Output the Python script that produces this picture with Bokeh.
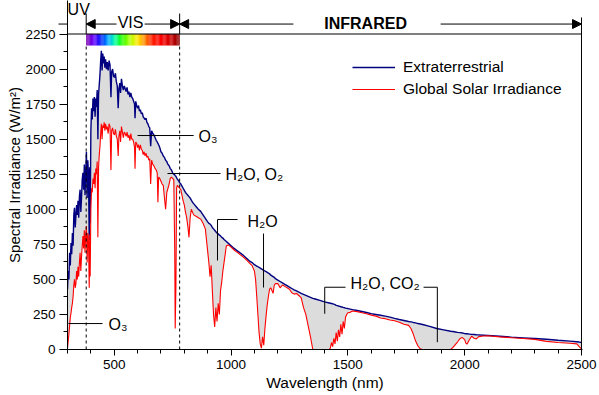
import math
from bokeh.plotting import figure
from bokeh.models import (Range1d, FixedTicker, Arrow, NormalHead, Label,
                          Legend, LegendItem, Title)
from bokeh.embed import file_html
from bokeh.resources import INLINE

# ---------------- data ----------------
wavelength = [
    300, 303, 306, 309, 312, 315, 318, 321, 324, 327, 330, 333, 336, 339, 342, 345, 348,
    351, 354, 357, 360, 363, 366, 369, 372, 375, 378, 381, 384, 387, 390, 393, 395, 397,
    400, 403, 406, 409, 412, 415, 418, 421, 424, 427, 430, 433, 436, 439, 442, 445, 448,
    451, 454, 457, 460, 463, 467, 470, 474, 478, 482, 486, 489, 493, 497, 501, 505, 509,
    513, 517, 520, 524, 527, 531, 535, 539, 543, 547, 551, 555, 559, 563, 567, 571, 575,
    579, 583, 587, 589, 592, 596, 600, 604, 608, 612, 616, 620, 624, 628, 632, 636, 640,
    644, 648, 652, 656, 660, 665, 670, 675, 680, 684, 687, 690, 695, 700, 705, 710, 715,
    720, 725, 730, 735, 740, 745, 750, 755, 759, 761, 764, 767, 770, 775, 780, 785, 790,
    795, 800, 805, 810, 815, 820, 825, 830, 835, 840, 850, 860, 870, 880, 890, 900, 905,
    910, 915, 920, 925, 930, 935, 940, 945, 950, 955, 960, 965, 970, 980, 990, 1000, 1010,
    1020, 1030, 1040, 1050, 1060, 1070, 1080, 1090, 1100, 1105, 1110, 1115, 1120, 1125,
    1130, 1135, 1140, 1145, 1150, 1155, 1160, 1165, 1170, 1180, 1185, 1190, 1200, 1210,
    1220, 1230, 1240, 1250, 1260, 1270, 1280, 1290, 1300, 1310, 1320, 1330, 1340, 1350,
    1360, 1380, 1400, 1420, 1425, 1430, 1435, 1440, 1445, 1450, 1455, 1460, 1465, 1470,
    1475, 1480, 1485, 1490, 1495, 1500, 1510, 1520, 1540, 1560, 1580, 1600, 1620, 1640,
    1660, 1680, 1700, 1720, 1740, 1760, 1770, 1780, 1790, 1800, 1810, 1820, 1850, 1880,
    1910, 1940, 1950, 1960, 1970, 1980, 1990, 2000, 2005, 2010, 2020, 2030, 2040, 2050,
    2060, 2080, 2100, 2150, 2200, 2250, 2300, 2350, 2400, 2450, 2480, 2490, 2500]

extraterrestrial = [
    430, 560, 500, 690, 600, 760, 680, 830, 740, 960, 1010, 870, 950, 1030, 960, 1060, 940,
    1090, 1140, 980, 1080, 1210, 1260, 1140, 1320, 1100, 1260, 1410, 1080, 1350, 1240, 780, 1300, 900,
    1560, 1720, 1640, 1790, 1700, 1800, 1660, 1790, 1730, 1850, 1500, 1820, 1890, 1960, 2060, 2130, 1990,
    2110, 2040, 2090, 2010, 2070, 2000, 2050, 1990, 2060, 2030, 1800, 1980, 2000, 1950, 1940, 1970, 1910,
    1880, 1720, 1860, 1900, 1830, 1930, 1880, 1850, 1880, 1860, 1840, 1870, 1820, 1840, 1800, 1830, 1800,
    1790, 1770, 1750, 1650, 1770, 1740, 1720, 1740, 1700, 1710, 1680, 1690, 1660, 1650, 1640, 1650, 1620,
    1610, 1590, 1580, 1450, 1560, 1540, 1530, 1510, 1490, 1480, 1470, 1460, 1440, 1410, 1400, 1380, 1370,
    1350, 1340, 1320, 1310, 1290, 1280, 1260, 1250, 1245, 1240, 1235, 1225, 1215, 1205, 1190, 1180, 1165,
    1150, 1135, 1120, 1110, 1100, 1090, 1080, 1065, 1050, 1040, 1020, 1000, 985, 960, 935, 910, 900,
    895, 885, 870, 860, 850, 840, 830, 825, 815, 810, 800, 795, 785, 770, 755, 740, 725,
    712, 700, 688, 675, 660, 645, 630, 620, 605, 600, 595, 590, 585, 580,
    575, 570, 565, 560, 555, 550, 545, 540, 530, 520, 515, 505, 495, 485,
    475, 465, 455, 445, 435, 425, 418, 410, 400, 393, 386, 379, 372, 365,
    360, 350, 340, 332, 330, 328, 326, 323, 320, 315, 313, 310, 308, 305,
    303, 300, 298, 295, 293, 292, 288, 284, 278, 271, 264, 256, 250, 244,
    238, 231, 222, 214, 207, 200, 197, 193, 190, 185, 182, 178, 165, 150,
    140, 130, 128, 125, 122, 120, 118, 113, 112, 112, 110, 108, 107, 105,
    104, 102, 100, 95, 88, 83, 78, 73, 66, 60, 55, 53, 50]

global_irradiance = [
    10, 60, 110, 170, 230, 260, 300, 330, 380, 460, 500, 440, 470, 560, 500, 590, 520,
    620, 690, 560, 660, 740, 810, 720, 850, 690, 820, 880, 620, 830, 760, 440, 820, 520,
    1000, 1150, 1120, 1220, 1180, 1260, 1150, 1290, 1250, 1340, 800, 1300, 1390, 1450, 1540, 1610, 1500,
    1600, 1580, 1620, 1560, 1610, 1570, 1590, 1540, 1610, 1590, 1280, 1560, 1580, 1540, 1530, 1570, 1520,
    1500, 1380, 1520, 1560, 1480, 1590, 1550, 1510, 1550, 1540, 1520, 1550, 1510, 1530, 1490, 1540, 1500,
    1500, 1480, 1440, 1290, 1480, 1470, 1440, 1460, 1420, 1460, 1430, 1420, 1390, 1410, 1380, 1400, 1370,
    1380, 1350, 1360, 1180, 1350, 1320, 1310, 1290, 1280, 1260, 1050, 1230, 1220, 1200, 1180, 1170, 1080,
    1000, 1120, 1150, 1180, 1220, 1230, 1220, 1210, 700, 150, 450, 1150, 1170, 1160, 1150, 1140, 1100,
    1060, 1030, 980, 940, 880, 800, 940, 1000, 980, 960, 950, 940, 930, 900, 860, 700, 620,
    520, 600, 420, 250, 160, 300, 200, 330, 250, 420, 480, 560, 620, 740, 745, 730, 715,
    700, 690, 675, 662, 648, 632, 615, 598, 560, 500, 380, 250, 120, 40,
    10, 90, 30, 150, 240, 320, 380, 430, 440, 400, 460, 470, 470, 440,
    460, 450, 440, 430, 405, 395, 400, 385, 370, 300, 250, 170, 90, 0,
    0, 0, 0, 0, 10, 50, 20, 80, 40, 120, 60, 140, 90, 180,
    110, 200, 150, 230, 250, 262, 265, 275, 270, 262, 255, 245, 238, 225,
    220, 210, 205, 195, 180, 172, 150, 110, 60, 25, 5, 0, 0, 0,
    0, 0, 15, 35, 55, 78, 85, 70, 45, 38, 70, 95, 80, 75,
    92, 96, 98, 90, 84, 78, 72, 58, 50, 45, 40, 20, 5]

x_major_ticks = [500, 1000, 1500, 2000, 2500]
x_minor_ticks = [300, 400, 600, 700, 800, 900, 1100, 1200, 1300, 1400, 1600, 1700,
                 1800, 1900, 2100, 2200, 2300, 2400]
y_major_ticks = [0, 250, 500, 750, 1000, 1250, 1500, 1750, 2000, 2250]
y_minor_ticks = [125, 375, 625, 875, 1125, 1375, 1625, 1875, 2125]

# spectral colour bar stops (fraction of 380-780 nm, colour)
rainbow_stops = [(0.00, "#7a00a8"), (0.08, "#6a00ff"), (0.16, "#0020ff"), (0.24, "#00b0ff"),
                 (0.31, "#00ffa0"), (0.38, "#20ff00"), (0.47, "#b0ff00"), (0.55, "#ffe800"),
                 (0.62, "#ff9000"), (0.70, "#ff2000"), (0.80, "#ff0000"), (0.90, "#d00000"),
                 (1.00, "#8b0000")]

FONT = "Liberation Sans"

p = figure(width=599, height=395, x_range=Range1d(300, 2504.3), y_range=Range1d(0, 2489),
           output_backend="svg", toolbar_location=None,
           min_border_left=67, min_border_right=17, min_border_top=0, min_border_bottom=46)
p.outline_line_color = None
p.xgrid.visible = False
p.ygrid.visible = False
p.background_fill_color = "white"

for ax in (p.xaxis[0], p.yaxis[0]):
    ax.axis_line_color = "black"
    ax.major_tick_line_color = "black"
    ax.minor_tick_line_color = "black"
    ax.major_tick_in = 0
    ax.minor_tick_in = 0
    ax.major_label_text_font = FONT
    ax.major_label_text_font_size = "13.5px"
    ax.major_label_text_color = "black"
    ax.major_label_standoff = 4

p.xaxis.ticker = FixedTicker(ticks=x_major_ticks, minor_ticks=x_minor_ticks)
p.yaxis.ticker = FixedTicker(ticks=y_major_ticks, minor_ticks=y_minor_ticks)
p.xaxis.major_tick_out = 6
p.xaxis.minor_tick_out = 4
p.yaxis.major_tick_out = 8
p.yaxis.minor_tick_out = 4

# axis titles
p.add_layout(Title(text="Wavelength (nm)", align="center", offset=-10, standoff=0,
                   text_font=FONT, text_font_size="15.5px", text_font_style="normal",
                   text_color="black"), "below")
p.add_layout(Title(text="Spectral Irradiance (W/m²)", align="center", offset=14, standoff=0,
                   text_font=FONT, text_font_size="15px", text_font_style="normal",
                   text_color="black"), "left")

# grey absorption area + curves
p.varea(x=wavelength, y1=global_irradiance, y2=extraterrestrial, fill_color="#dcdcdc")
r_ext = p.line(wavelength, extraterrestrial, line_color="#000080", line_width=1.4)
r_glob = p.line(wavelength, global_irradiance, line_color="#ff0000", line_width=1.1)

# colour bar 380-780 nm
def hex2rgb(h):
    return tuple(int(h[i:i + 2], 16) for i in (1, 3, 5))

n_bins = 80
lefts, rights, cols = [], [], []
for i in range(n_bins):
    f = (i + 0.5) / n_bins
    for (f0, c0), (f1, c1) in zip(rainbow_stops[:-1], rainbow_stops[1:]):
        if f0 <= f <= f1:
            t = (f - f0) / (f1 - f0)
            a, b = hex2rgb(c0), hex2rgb(c1)
            rgb = tuple(round(a[k] + (b[k] - a[k]) * t) for k in range(3))
            cols.append("#%02x%02x%02x" % rgb)
            break
    lefts.append(380 + 400 * i / n_bins)
    rights.append(380 + 400 * (i + 1) / n_bins + 0.5)
p.quad(left=lefts, right=rights, bottom=2168, top=2250, fill_color=cols, line_color=None)

# region boundaries
p.segment(x0=[380, 780], y0=[0, 0], x1=[380, 780], y1=[2168, 2168],
          line_color="black", line_width=1, line_dash="3 3")
p.segment(x0=[380, 780], y0=[2250, 2250], x1=[380, 780], y1=[2396, 2396],
          line_color="black", line_width=1)

def line_ann(x0, y0, x1, y1):
    p.add_layout(Arrow(x_start=x0, y_start=y0, x_end=x1, y_end=y1, end=None,
                       line_color="black", line_width=1))

def arrow_ann(x0, y0, x1, y1):
    p.add_layout(Arrow(x_start=x0, y_start=y0, x_end=x1, y_end=y1,
                       end=NormalHead(size=9, fill_color="black", line_color="black"),
                       line_color="black", line_width=1))

line_ann(300, 2250, 2500, 2250)      # top line
line_ann(2500, 2368, 2500, 0)        # right border
ROW = 2321
arrow_ann(219, ROW, 300, ROW)        # UV
arrow_ann(510, ROW, 380, ROW)        # VIS left
arrow_ann(630, ROW, 780, ROW)        # VIS right
arrow_ann(1267, ROW, 780, ROW)       # IR left
arrow_ann(1897, ROW, 2500, ROW)      # IR right

def text_ann(x, y, s, size="16px", style="normal", align="left", angle=0.0):
    p.add_layout(Label(x=x, y=y, text=s, text_font=FONT, text_font_size=size,
                       text_font_style=style, text_align=align, text_baseline="middle",
                       text_color="black", angle=angle))

text_ann(348, 2422, "UV", size="16px", align="center")
text_ann(570, 2330, "VIS", size="16px", align="center")
text_ann(1576, 2325, "INFRARED", size="16px", style="bold", align="center")

# absorption-band annotations
p.multi_line(xs=[[600, 840], [728, 955], [942, 942, 1028], [1139, 1139],
                 [1401, 1401, 1490], [1824, 1883, 1883], [304, 450]],
             ys=[[1526, 1526], [1255, 1255], [635, 927, 927], [827, 442],
                 [255, 444, 444], [444, 444, 52], [185, 185]],
             line_color="black", line_width=1)
text_ann(861, 1518, "O₃")
text_ann(976, 1250, "H₂O, O₂")
text_ann(1070, 915, "H₂O")
text_ann(1511, 470, "H₂O, CO₂")
text_ann(476, 175, "O₃")

legend = Legend(items=[LegendItem(label="Extraterrestrial", renderers=[r_ext]),
                       LegendItem(label="Global Solar Irradiance", renderers=[r_glob])],
                location=(285, 250), glyph_width=43, glyph_height=20, label_height=20,
                spacing=2, padding=0, margin=0, label_standoff=8,
                border_line_color=None, background_fill_alpha=0,
                label_text_font=FONT, label_text_font_size="15.5px", label_text_color="black")
p.add_layout(legend)

open("out.html", "w").write(file_html(p, INLINE))
